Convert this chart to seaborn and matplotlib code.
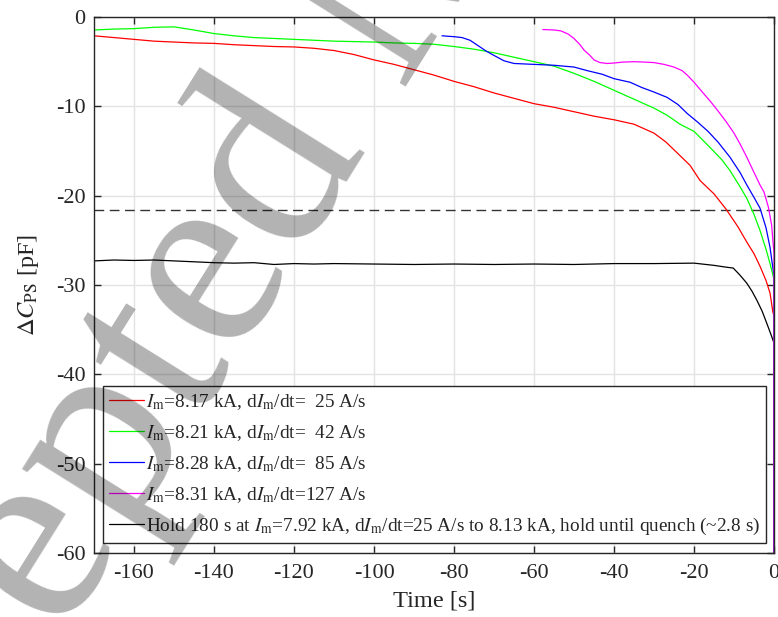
import numpy as np
import pandas as pd
import matplotlib
matplotlib.use("Agg")
import matplotlib.pyplot as plt
import seaborn as sns

# ---------------- data ----------------
t_red = [-170, -165, -160, -155, -150, -145, -140, -135, -130, -125, -120, -115, -110, -105, -100,
         -95, -90, -85, -80, -75, -70, -65, -60, -55, -50, -45, -40, -35, -30, -27, -24, -21,
         -18.5, -15, -12, -9, -6.8, -5, -3.5, -2, -1, -0.3, 0, 0]
y_red = [-2.1, -2.3, -2.5, -2.7, -2.8, -2.9, -2.95, -3.1, -3.2, -3.3, -3.35, -3.5, -3.75, -4.2, -4.8,
         -5.3, -5.9, -6.5, -7.2, -7.8, -8.5, -9.1, -9.7, -10.1, -10.6, -11.1, -11.5, -12.0, -13.0, -14.0,
         -15.3, -16.6, -18.3, -19.8, -21.5, -23.5, -25.2, -26.5, -27.9, -29.5, -30.9, -33.0, -33.5, -65]

t_green = [-170, -165, -160, -155, -150, -145, -140, -135, -130, -125, -120, -115, -110, -105, -100,
           -95, -90, -85, -80, -75, -70, -65, -60, -55, -50, -45, -40, -35, -30, -26.7, -23.5, -20,
           -16, -13, -11, -8.5, -6.8, -5, -3.5, -2, -1, 0, 0]
y_green = [-1.45, -1.35, -1.3, -1.15, -1.1, -1.45, -1.85, -2.1, -2.3, -2.4, -2.5, -2.6, -2.7, -2.75, -2.8,
           -2.9, -2.95, -3.05, -3.3, -3.6, -4.0, -4.5, -5.0, -5.5, -6.3, -7.2, -8.2, -9.2, -10.2, -11.0,
           -12.0, -12.8, -14.6, -16.0, -17.2, -19.0, -20.3, -22.1, -23.9, -26.0, -27.6, -29.4, -65]

t_blue = [-83, -80, -78, -76, -74, -72, -70, -67.5, -65, -60, -55, -50, -46.7, -43, -40, -36, -33, -30,
          -26.7, -24, -21.7, -19, -16.5, -14, -11, -8.5, -6.8, -5, -3.5, -2, -1, 0, 0]
y_blue = [-2.1, -2.2, -2.3, -2.6, -3.2, -3.8, -4.3, -4.9, -5.2, -5.3, -5.4, -5.6, -6.0, -6.4, -6.9, -7.3,
          -7.9, -8.4, -9.0, -9.8, -10.8, -11.8, -12.8, -14.0, -15.7, -17.4, -18.8, -20.2, -21.4, -23.6,
          -25.8, -29.0, -65]

t_mag = [-57.8, -55, -53.3, -51.5, -50, -48.5, -47.5, -46, -45, -43.5, -41.7, -40, -38, -35, -32, -30,
         -27.5, -25, -23, -21.7, -20, -18.3, -16, -14.2, -12, -10, -8.5, -6.8, -5, -3.5, -2.5, -1.4,
         -0.6, 0, 0]
y_mag = [-1.4, -1.45, -1.55, -1.9, -2.4, -3.1, -3.7, -4.3, -4.8, -5.1, -5.2, -5.15, -5.05, -5.0, -5.05,
         -5.1, -5.3, -5.6, -6.0, -6.5, -7.3, -8.2, -9.4, -10.4, -11.7, -13.0, -14.2, -15.7, -17.4,
         -18.8, -19.6, -21.3, -23.3, -26.5, -65]

t_hold = [-170, -165, -160, -155, -150, -145, -140, -135, -130, -125, -120, -115, -110, -100, -90, -80,
          -70, -60, -50, -40, -30, -20, -15, -12, -10.2, -8.5, -6.8, -5.5, -4.3, -3, -1.8, -0.8, 0, 0]
y_hold = [-27.3, -27.2, -27.25, -27.2, -27.3, -27.4, -27.5, -27.55, -27.5, -27.7, -27.6, -27.65, -27.6,
          -27.65, -27.7, -27.65, -27.7, -27.65, -27.7, -27.6, -27.6, -27.55, -27.8, -28.0, -28.1, -28.9,
          -29.8, -30.7, -31.7, -32.9, -34.3, -35.5, -36.5, -65]

threshold = -21.6

labels = [
    r"$I_\mathrm{m}$=8.17 kA, d$I_\mathrm{m}$/dt=  25 A/s",
    r"$I_\mathrm{m}$=8.21 kA, d$I_\mathrm{m}$/dt=  42 A/s",
    r"$I_\mathrm{m}$=8.28 kA, d$I_\mathrm{m}$/dt=  85 A/s",
    r"$I_\mathrm{m}$=8.31 kA, d$I_\mathrm{m}$/dt=127 A/s",
    r"Hold 180 s at $I_\mathrm{m}$=7.92 kA, d$I_\mathrm{m}$/dt=25 A/s to 8.13 kA, hold until quench (~2.8 s)",
]
colors = ["#ff0000", "#00ff00", "#0000ff", "#ff00ff", "#000000"]

x_ticks = [-160, -140, -120, -100, -80, -60, -40, -20, 0]
y_ticks = [0, -10, -20, -30, -40, -50, -60]

# ---------------- style ----------------
sns.set_style("white")
plt.rcParams["font.family"] = ["Liberation Serif", "DejaVu Serif"]
plt.rcParams["mathtext.fontset"] = "stix"
plt.rcParams["axes.unicode_minus"] = False

fig = plt.figure(figsize=(7.78, 6.17), dpi=100)
ax = fig.add_axes([0.1208, 0.1037, 0.8741, 0.8687])

series = [(t_hold, y_hold, 4), (t_red, y_red, 0), (t_green, y_green, 1), (t_blue, y_blue, 2), (t_mag, y_mag, 3)]
handles = {}
for tt, yy, k in series:
    df = pd.DataFrame({"t": tt, "y": yy})
    sns.lineplot(data=df, x="t", y="y", sort=False, estimator=None, color=colors[k],
                 linewidth=0.9, ax=ax, label=labels[k], legend=False)
    handles[k] = ax.lines[-1]

ax.axhline(threshold, color="#333333", linewidth=1.0, dashes=(7, 4), zorder=1)

ax.set_xlim(-170, 0)
ax.set_ylim(-60, 0)
ax.set_xticks(x_ticks)
ax.set_yticks(y_ticks)
ax.grid(True, color="#e3e3e3", linewidth=1.0)
ax.set_axisbelow(True)
for s in ax.spines.values():
    s.set_color("#262626")
    s.set_linewidth(1.0)
ax.tick_params(direction="in", length=5, width=1.0, color="#262626", labelsize=16,
               top=True, right=True, bottom=True, left=True)
ax.tick_params(axis="x", pad=8)
ax.tick_params(axis="y", pad=6)

ax.set_xlabel("Time [s]", fontsize=17.6, labelpad=5)
ax.set_ylabel(r"$\Delta C_\mathrm{PS}$ [pF]", fontsize=17.6, labelpad=11)

leg = ax.legend([handles[k] for k in range(5)], labels, loc="lower left",
                bbox_to_anchor=(0.013, 0.019), borderaxespad=0, fontsize=13.9,
                frameon=True, fancybox=False, edgecolor="#262626", framealpha=1,
                handlelength=1.85, handletextpad=0.1, labelspacing=0.58, borderpad=0.3)
leg.get_frame().set_linewidth(1.0)

# watermark (as on the reference page)
fig.text(-167 / 778, 1 - 1003 / 617, "Accepted Manuscript", rotation=58, rotation_mode="anchor",
         ha="left", va="baseline", fontsize=192, family="Liberation Serif",
         color="black", alpha=0.3, zorder=10)

fig.savefig("out.png", dpi=100)
